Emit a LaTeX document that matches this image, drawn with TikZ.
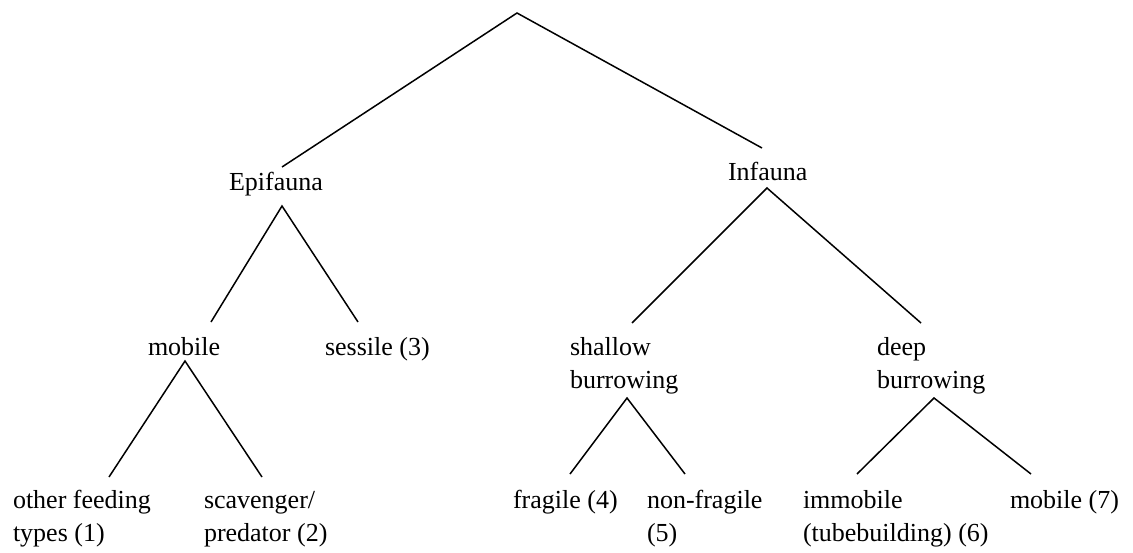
\documentclass[tikz,border=0pt]{standalone}
\usepackage{fontspec}
\setmainfont{Liberation Serif}
\begin{document}
\begin{tikzpicture}[x=1pt,y=-1pt,
  lbl/.style={anchor=base west,inner sep=0pt,outer sep=0pt,font=\fontsize{26}{33}\selectfont},
  edge/.style={line width=1.5pt,line join=miter}]
\useasboundingbox (0,0) rectangle (1133,552);
% labels
\node[lbl] (epi) at (229,190) {Epifauna};
\node[lbl] (inf) at (728,180) {Infauna};
\node[lbl] (mob) at (148,355) {mobile};
\node[lbl] (ses) at (325,355) {sessile (3)};
\node[lbl] (sha) at (570,355) {\begin{tabular}[t]{@{}l@{}}shallow\\burrowing\end{tabular}};
\node[lbl] (dee) at (877,355) {\begin{tabular}[t]{@{}l@{}}deep\\burrowing\end{tabular}};
\node[lbl] (oth) at (13,508) {\begin{tabular}[t]{@{}l@{}}other feeding\\types (1)\end{tabular}};
\node[lbl] (sca) at (204,508) {\begin{tabular}[t]{@{}l@{}}scavenger/\\predator (2)\end{tabular}};
\node[lbl] (fra) at (513,508) {fragile (4)};
\node[lbl] (nfr) at (647,508) {\begin{tabular}[t]{@{}l@{}}non-fragile\\(5)\end{tabular}};
\node[lbl] (imm) at (803,508) {\begin{tabular}[t]{@{}l@{}}immobile\\(tubebuilding) (6)\end{tabular}};
\node[lbl] (mo7) at (1010,508) {mobile (7)};
% connector points
\coordinate (root) at (517,13);
\coordinate (root-l) at (282,167);
\coordinate (root-r) at (762,148);
\coordinate (epi-a) at (282,206);
\coordinate (epi-l) at (211,322);
\coordinate (epi-r) at (358,322);
\coordinate (inf-a) at (767,188);
\coordinate (inf-l) at (632,323);
\coordinate (inf-r) at (921,323);
\coordinate (mob-a) at (185,361);
\coordinate (mob-l) at (109,477);
\coordinate (mob-r) at (262,477);
\coordinate (sha-a) at (627,398);
\coordinate (sha-l) at (570,474);
\coordinate (sha-r) at (685,474);
\coordinate (dee-a) at (934,398);
\coordinate (dee-l) at (857,474);
\coordinate (dee-r) at (1031,474);
% connectors
\draw[edge] (root-l) -- (root) -- (root-r);
\draw[edge] (epi-l) -- (epi-a) -- (epi-r);
\draw[edge] (inf-l) -- (inf-a) -- (inf-r);
\draw[edge] (mob-l) -- (mob-a) -- (mob-r);
\draw[edge] (sha-l) -- (sha-a) -- (sha-r);
\draw[edge] (dee-l) -- (dee-a) -- (dee-r);
\end{tikzpicture}
\end{document}
